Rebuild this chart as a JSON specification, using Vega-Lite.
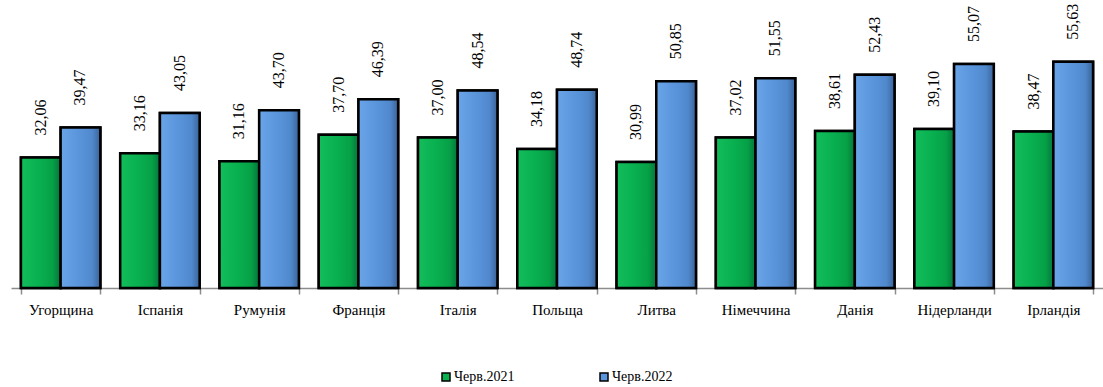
{
  "$schema": "https://vega.github.io/schema/vega-lite/v6.json",
  "autosize": {"type": "none"},
  "padding": {"left": 11, "right": 0, "top": 44, "bottom": 99},
  "width": 1092,
  "height": 244,
  "background": "white",
  "config": {
    "view": {"stroke": null},
    "locale": {"number": {"decimal": ",", "thousands": " ", "grouping": [3], "currency": ["", ""]}},
    "font": "Liberation Serif"
  },
  "data": {
    "values": [
      {"country": "Угорщина", "period": "Черв.2021", "value": 32.06},
      {"country": "Угорщина", "period": "Черв.2022", "value": 39.47},
      {"country": "Іспанія", "period": "Черв.2021", "value": 33.16},
      {"country": "Іспанія", "period": "Черв.2022", "value": 43.05},
      {"country": "Румунія", "period": "Черв.2021", "value": 31.16},
      {"country": "Румунія", "period": "Черв.2022", "value": 43.70},
      {"country": "Франція", "period": "Черв.2021", "value": 37.70},
      {"country": "Франція", "period": "Черв.2022", "value": 46.39},
      {"country": "Італія", "period": "Черв.2021", "value": 37.00},
      {"country": "Італія", "period": "Черв.2022", "value": 48.54},
      {"country": "Польща", "period": "Черв.2021", "value": 34.18},
      {"country": "Польща", "period": "Черв.2022", "value": 48.74},
      {"country": "Литва", "period": "Черв.2021", "value": 30.99},
      {"country": "Литва", "period": "Черв.2022", "value": 50.85},
      {"country": "Німеччина", "period": "Черв.2021", "value": 37.02},
      {"country": "Німеччина", "period": "Черв.2022", "value": 51.55},
      {"country": "Данія", "period": "Черв.2021", "value": 38.61},
      {"country": "Данія", "period": "Черв.2022", "value": 52.43},
      {"country": "Нідерланди", "period": "Черв.2021", "value": 39.10},
      {"country": "Нідерланди", "period": "Черв.2022", "value": 55.07},
      {"country": "Ірландія", "period": "Черв.2021", "value": 38.47},
      {"country": "Ірландія", "period": "Черв.2022", "value": 55.63}
    ]
  },
  "encoding": {
    "x": {
      "field": "country", "type": "nominal", "sort": null,
      "scale": {"paddingInner": 0.2, "paddingOuter": 0.1},
      "axis": {
        "title": null, "labelAngle": 0, "labelFont": "Liberation Serif", "labelFontSize": 15,
        "labelColor": "black", "labelPadding": 8, "domainColor": "#8c8c8c", "domainWidth": 1.5,
        "tickColor": "#8c8c8c", "tickSize": 6, "tickWidth": 1.5, "tickBand": "extent"
      }
    },
    "xOffset": {"field": "period", "type": "nominal", "sort": ["Черв.2021", "Черв.2022"]},
    "y": {"field": "value", "type": "quantitative", "scale": {"domain": [0, 60]}, "axis": null}
  },
  "layer": [
    {
      "mark": {"type": "bar", "stroke": "black", "strokeWidth": 2.5},
      "encoding": {
        "color": {
          "field": "period", "type": "nominal",
          "scale": {"domain": ["Черв.2021", "Черв.2022"], "range": ["#08b050", "#5a95dc"]},
          "legend": {
            "title": null, "orient": "none", "legendX": 428, "legendY": 326, "direction": "horizontal",
            "symbolType": "square", "symbolSize": 64, "symbolStrokeColor": "black", "symbolStrokeWidth": 1.5,
            "labelFont": "Liberation Serif", "labelFontSize": 14, "labelColor": "black",
            "columnPadding": 82, "symbolOffset": 0, "labelOffset": 1
          }
        }
      }
    },
    {
      "transform": [{"filter": "datum.period === 'Черв.2021'"}],
      "mark": {
        "type": "bar", "stroke": "black", "strokeWidth": 2.5,
        "fill": {"x1": 0, "x2": 1, "y1": 0, "y2": 0, "gradient": "linear",
          "stops": [{"offset": 0, "color": "#14bd5c"}, {"offset": 0.45, "color": "#08b050"}, {"offset": 0.8, "color": "#06a046"}, {"offset": 1, "color": "#04753b"}]}
      }
    },
    {
      "transform": [{"filter": "datum.period === 'Черв.2022'"}],
      "mark": {
        "type": "bar", "stroke": "black", "strokeWidth": 2.5,
        "fill": {"x1": 0, "x2": 1, "y1": 0, "y2": 0, "gradient": "linear",
          "stops": [{"offset": 0, "color": "#6aa4e8"}, {"offset": 0.45, "color": "#5a95dc"}, {"offset": 0.8, "color": "#5088cc"}, {"offset": 1, "color": "#3a6398"}]}
      }
    },
    {
      "mark": {"type": "text", "angle": 270, "align": "left", "baseline": "middle", "dx": 22, "font": "Liberation Serif", "fontSize": 16, "color": "black"},
      "encoding": {"text": {"field": "value", "type": "quantitative", "format": ".2f"}}
    }
  ]
}
